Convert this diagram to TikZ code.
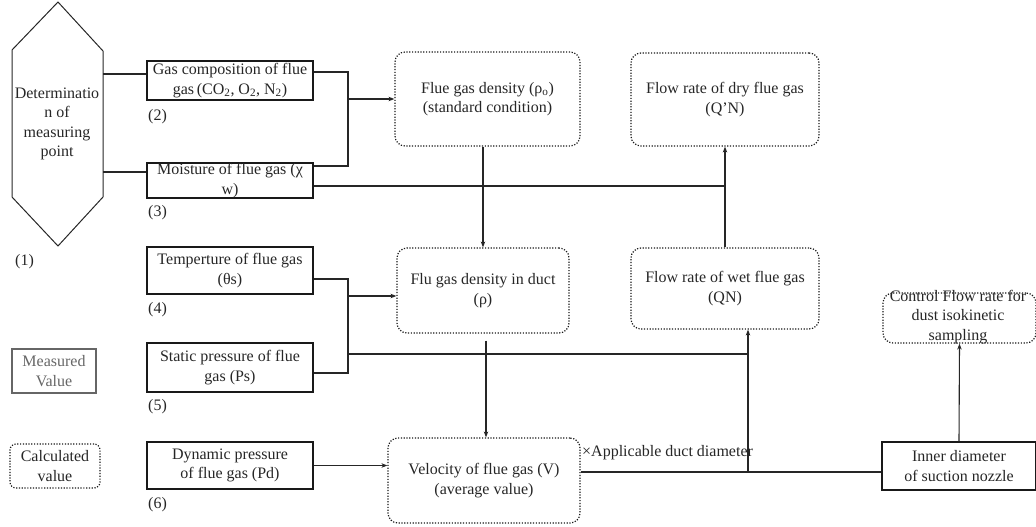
\documentclass[tikz,border=0pt]{standalone}
\usepackage{fontspec}
\setmainfont{Liberation Serif}
\usetikzlibrary{arrows.meta}
\begin{document}
\begin{tikzpicture}[x=1pt,y=-1pt,
  txt/.style={font=\fontsize{16}{19.5}\selectfont, align=center, text=black!85},
  sbox/.style={txt, draw=black!90, line width=1.5pt, inner sep=0pt},
  cbox/.style={txt, draw=black!90, dash pattern=on 1.2pt off 1.6pt, line width=1.2pt, rounded corners=10pt, inner sep=0pt},
  lbl/.style={txt, anchor=west, inner sep=0pt},
  conn/.style={line width=1.1pt, draw=black!85},
  arr/.style={conn, -{Stealth[length=6pt,width=4.5pt]}},
]
\useasboundingbox (0,0) rectangle (1036,527);

% hexagon
\draw[line width=1pt, black!85] (58,2) -- (103,51) -- (103,197) -- (58,246) -- (12,197) -- (12,50) -- cycle;
\node[txt] (hex) at (57,124) {Determinatio\\n of\\measuring\\point};
\coordinate (hA) at (103,74);
\coordinate (hB) at (103,172);

% solid boxes
\node[sbox, minimum width=166pt, minimum height=39pt] (gas) at (230,80.5) {Gas composition of flue\\gas\,(CO\textsubscript{2}, O\textsubscript{2}, N\textsubscript{2})};
\node[sbox, minimum width=166pt, minimum height=35pt] (moist) at (230,180.5) {Moisture of flue gas (χ\\w)};
\node[sbox, minimum width=166pt, minimum height=47pt] (temp) at (230,270.5) {Temperture of flue gas\\(θs)};
\node[sbox, minimum width=166pt, minimum height=49pt] (stat) at (230,367.5) {Static pressure of flue\\gas (Ps)};
\node[sbox, minimum width=166pt, minimum height=47pt] (dyn) at (230,465.5) {Dynamic pressure\\of flue gas (Pd)};
\node[sbox, minimum width=154pt, minimum height=48pt] (inner) at (959,466) {Inner diameter\\of suction nozzle};

% calculated boxes
\node[cbox, minimum width=185pt, minimum height=94pt] (rho0) at (487.5,99) {Flue gas density (ρ\textsubscript{o})\\(standard condition)};
\node[cbox, minimum width=188pt, minimum height=93pt] (dry) at (725,99.5) {Flow rate of dry flue gas\\(Q'N)};
\node[cbox, minimum width=172pt, minimum height=85pt] (duct) at (483,290.5) {Flu gas density in duct\\(ρ)};
\node[cbox, minimum width=188pt, minimum height=81pt] (wet) at (725,288.5) {Flow rate of wet flue gas\\(QN)};
\node[cbox, minimum width=192pt, minimum height=85pt] (vel) at (484,480.5) {Velocity of flue gas (V)\\(average value)};
\node[cbox, minimum width=153pt, minimum height=50pt] (ctrl) at (959.5,318) {};
\node[txt] (ctrltxt) at (958,317) {Control Flow rate for\\dust isokinetic\\sampling};

% legend
\node[txt, draw=black!60, text=black!60, line width=1.3pt, minimum width=84pt, minimum height=44pt, inner sep=0pt] (meas) at (54,371) {Measured\\Value};
\node[cbox, rounded corners=6pt, minimum width=90pt, minimum height=44pt] (calc) at (55,466) {Calculated\\value};

% number labels
\node[lbl] (n1) at (15,262) {(1)};
\node[lbl] (n2) at (148,117) {(2)};
\node[lbl] (n3) at (148,213) {(3)};
\node[lbl] (n4) at (148,310) {(4)};
\node[lbl] (n5) at (148,407) {(5)};
\node[lbl] (n6) at (148,505) {(6)};

% connectors
\draw[conn] (hA) -- (hA -| gas.west);
\draw[conn] (hB) -- (hB -| moist.west);

\coordinate (j1a) at (348,72);
\coordinate (j1b) at (348,166);
\coordinate (j1m) at (348,99);
\draw[conn] (gas.east |- j1a) -- (j1a) -- (j1b) -- (moist.east |- j1b);
\draw[arr] (j1m) -- (rho0.west |- j1m);

\coordinate (m2) at (725,186);
\draw[conn] (moist.east |- m2) -- (m2);
\draw[arr] (wet.north) -- (dry.south);

\draw[arr] (rho0.south -| duct.north) -- (duct.north);
\draw[arr] (duct.south) ++(3,7) coordinate (ds) -- (ds |- vel.north);

\coordinate (j2a) at (348,279);
\coordinate (j2b) at (348,373);
\coordinate (j2m) at (348,296);
\coordinate (j2l) at (348,354);
\draw[conn] (temp.east |- j2a) -- (j2a) -- (j2b) -- (stat.east |- j2b);
\draw[arr] (j2m) -- (duct.west |- j2m);
\coordinate (v1t) at (748,354);
\draw[conn] (j2l) -- (v1t);

\coordinate (v1) at (748,472);
\draw[arr] (v1) -- (v1 |- wet.south);
\draw[conn] (vel.east |- v1) -- (inner.west |- v1);
\node[lbl] (appl) at (582,453) {×Applicable duct diameter};

\draw[arr] (dyn.east) -- (vel.west |- dyn.east);
\draw[arr] (inner.north) -- (ctrl.south);
\end{tikzpicture}
\end{document}
